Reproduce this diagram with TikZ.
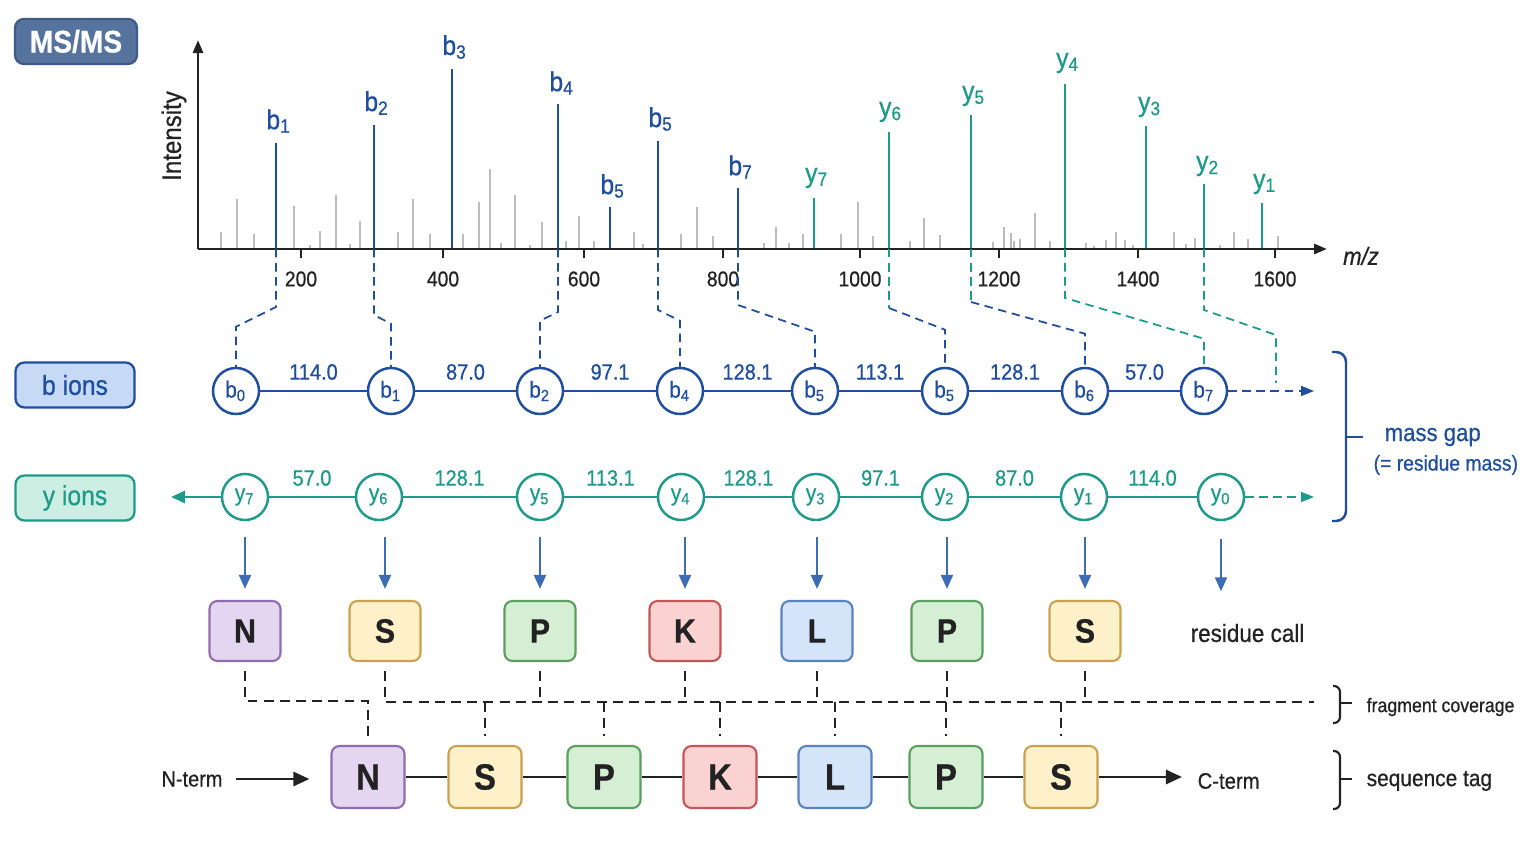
\documentclass[tikz,border=0pt]{standalone}
\usepackage{fontspec}
\setmainfont{Liberation Sans}[FakeStretch=0.9,FakeBold=0.6]
\usetikzlibrary{arrows.meta,calc}
\definecolor{bblue}{HTML}{1F4E9E}
\definecolor{yteal}{HTML}{1E9A8A}
\definecolor{arrblue}{HTML}{3D6CB4}
\definecolor{msfill}{HTML}{56739E}
\definecolor{msedge}{HTML}{3F5A85}
\definecolor{bfill}{HTML}{C6D9F5}
\definecolor{yfill}{HTML}{CDEEE2}
\definecolor{noise}{HTML}{BDBDBD}
\definecolor{Nfill}{HTML}{E4D6F1}\definecolor{Nedge}{HTML}{8F6DAF}
\definecolor{Sfill}{HTML}{FEF0C9}\definecolor{Sedge}{HTML}{C8A24E}
\definecolor{Pfill}{HTML}{D5EFD4}\definecolor{Pedge}{HTML}{5C9E5E}
\definecolor{Kfill}{HTML}{FBD2D2}\definecolor{Kedge}{HTML}{C65558}
\definecolor{Lfill}{HTML}{D4E4F9}\definecolor{Ledge}{HTML}{5A84BF}
\definecolor{txt}{HTML}{222222}
\newcommand{\fsz}[1]{\fontsize{#1}{#1}\selectfont}
\newcommand{\ionlab}[2]{#1\textsubscript{#2}}
\begin{document}
\begin{tikzpicture}[x=0.01cm,y=-0.01cm,
  every node/.style={inner sep=0pt,text=txt},
  bion/.style={circle,draw=bblue,line width=0.7pt,fill=white,minimum size=0.46cm,text=bblue,font=\fsz{6.6}},
  yion/.style={circle,draw=yteal,line width=0.7pt,fill=white,minimum size=0.46cm,text=yteal,font=\fsz{6.6}},
  bedge/.style={draw=bblue,line width=0.75pt},
  yedge/.style={draw=yteal,line width=0.75pt},
  gapb/.style={midway,yshift=0.19cm,font=\fsz{6.3},text=bblue},
  gapy/.style={midway,yshift=0.19cm,font=\fsz{6.3},text=yteal},
  peakb/.style={draw=bblue,line width=0.75pt},
  peaky/.style={draw=yteal,line width=0.75pt},
  plabb/.style={font=\fsz{7.8},text=bblue},
  plaby/.style={font=\fsz{7.8},text=yteal},
  bdash/.style={draw=bblue,line width=0.5pt,dash pattern=on 2.4pt off 1.6pt},
  ydash/.style={draw=yteal,line width=0.5pt,dash pattern=on 2.4pt off 1.6pt},
  res/.style={rounded corners=0.08cm,minimum width=0.71cm,minimum height=0.6cm,line width=0.6pt,font=\bfseries\fsz{9.6}},
  resq/.style={rounded corners=0.08cm,minimum width=0.73cm,minimum height=0.62cm,line width=0.6pt,font=\bfseries\fsz{10.4}},
  rN/.style={fill=Nfill,draw=Nedge},
  rS/.style={fill=Sfill,draw=Sedge},
  rP/.style={fill=Pfill,draw=Pedge},
  rK/.style={fill=Kfill,draw=Kedge},
  rL/.style={fill=Lfill,draw=Ledge},
  cov/.style={draw=txt,line width=0.6pt,dash pattern=on 2.8pt off 1.8pt},
  callarrow/.style={draw=arrblue,line width=0.6pt,-{Triangle[length=0.14cm,width=0.12cm]}},
  termarrow/.style={draw=txt,line width=0.75pt,-{Triangle[length=0.16cm,width=0.14cm]}},
  seq/.style={draw=txt,line width=0.75pt},
  tag/.style={rounded corners=0.09cm,minimum width=1.19cm,minimum height=0.45cm,line width=0.65pt,font=\fsz{7.8}},
  side/.style={anchor=west,font=\fsz{5.6}}
]
\useasboundingbox[fill=white] (0,0) rectangle (1536,864);

% ---------- MS/MS tag ----------
\node[tag,minimum width=1.22cm,fill=msfill,draw=msedge,text=white,font=\bfseries\fsz{8.9}] (ms) at (76,41.5) {MS/MS};

% ---------- spectrum: noise peaks ----------
\foreach \x/\t in {221/232,237/199,254/234,294/206,310/245,320/231,336/195,350/244,360/221,398/232,413/199,430/234,463/234,479/202,490/169,501/243,515/195,530/245,542/222,566/241,579/216,594/241,634/232,643/244,681/234,697/207,713/236,764/243,776/227,789/243,803/234,841/234,858/202,873/236,910/241,924/218,940/235,993/242,1004/227,1011/233,1014/241,1020/239,1035/213,1050/241,1086/243,1094/246,1106/240,1116/232,1125/240,1133/245,1174/232,1186/244,1195/238,1220/245,1234/232,1248/239,1278/236}
  {\draw[noise,line width=0.55pt] (\x,249) -- (\x,\t);}

% ---------- b peaks ----------
\foreach \n/\x/\t/\lx/\ly/\s in {b1/276/143/279/121/1,b2/374/125/377/103/2,b3/452/69/455/47/3,b4/558/104/562/83/4,b5a/610/207/613/186/5,b5b/658/141/661/119/5,b7/738/188/741/167/7}{
  \coordinate (p\n) at (\x,249);
  \draw[peakb] (p\n) -- (\x,\t);
  \node[plabb] (l\n) at (\lx,\ly) {\ionlab{b}{\s}};
}
% ---------- y peaks ----------
\foreach \n/\x/\t/\lx/\ly/\s in {y7/814/198/817/178/7,y6/889/132/891/112/6,y5/971/115/974/96/5,y4/1065/84/1068/63/4,y3/1146/126/1150/107/3,y2/1204/184/1208/166/2,y1/1262/203/1265/184/1}{
  \coordinate (p\n) at (\x,249);
  \draw[peaky] (p\n) -- (\x,\t);
  \node[plaby] (l\n) at (\lx,\ly) {\ionlab{y}{\s}};
}

% ---------- axes ----------
\coordinate (origin) at (198,249);
\coordinate (ytip) at (198,40);
\coordinate (xtip) at (1327,249);
\draw[txt,line width=0.8pt,-{Triangle[length=0.13cm,width=0.1cm]}] (origin) -- (ytip);
\draw[txt,line width=0.8pt,-{Triangle[length=0.13cm,width=0.1cm]}] (origin) -- (xtip);
\foreach \x/\v in {301/200,443/400,584/600,723/800,860/1000,999/1200,1138/1400,1275/1600}{
  \draw[txt,line width=0.7pt] (\x,249) -- (\x,258);
  \node[font=\fsz{6.1}] (t\v) at (\x,279) {\v};
}
\node[rotate=90,font=\fsz{7.6}] (ylab) at (174,136) {Intensity};
\node[font=\itshape\fsz{7}] (xlab) at (1361,256) {m/z};

% ---------- left tags ----------
\node[tag,fill=bfill,draw=bblue,text=bblue] (btag) at (75,385) {b ions};
\node[tag,fill=yfill,draw=yteal,text=yteal] (ytag) at (75,498) {y ions};

% ---------- b ion row ----------
\node[bion] (b0) at (236,391) {\ionlab{b}{0}};
\node[bion] (bb1) at (391,391) {\ionlab{b}{1}};
\node[bion] (bb2) at (540,391) {\ionlab{b}{2}};
\node[bion] (bb4) at (680,391) {\ionlab{b}{4}};
\node[bion] (bb5a) at (815,391) {\ionlab{b}{5}};
\node[bion] (bb5b) at (945,391) {\ionlab{b}{5}};
\node[bion] (bb6) at (1085,391) {\ionlab{b}{6}};
\node[bion] (bb7) at (1204,391) {\ionlab{b}{7}};
\coordinate (bend) at (1314,391);
\draw[bedge] (b0) -- node[gapb] {114.0} (bb1);
\draw[bedge] (bb1) -- node[gapb] {87.0} (bb2);
\draw[bedge] (bb2) -- node[gapb] {97.1} (bb4);
\draw[bedge] (bb4) -- node[gapb] {128.1} (bb5a);
\draw[bedge] (bb5a) -- node[gapb] {113.1} (bb5b);
\draw[bedge] (bb5b) -- node[gapb] {128.1} (bb6);
\draw[bedge] (bb6) -- node[gapb] {57.0} (bb7);
\draw[bdash,-{Triangle[length=0.13cm,width=0.1cm]}] (bb7) -- (bend);

% ---------- y ion row ----------
\node[yion] (y7) at (245,497) {\ionlab{y}{7}};
\node[yion] (y6) at (379,497) {\ionlab{y}{6}};
\node[yion] (y5) at (540,497) {\ionlab{y}{5}};
\node[yion] (y4) at (681,497) {\ionlab{y}{4}};
\node[yion] (y3) at (816,497) {\ionlab{y}{3}};
\node[yion] (y2) at (945,497) {\ionlab{y}{2}};
\node[yion] (y1) at (1084,497) {\ionlab{y}{1}};
\node[yion] (y0) at (1221,497) {\ionlab{y}{0}};
\coordinate (yleft) at (171,497);
\coordinate (yend) at (1314,497);
\draw[yedge,-{Triangle[length=0.14cm,width=0.12cm]}] (y7) -- (yleft);
\draw[yedge] (y7) -- node[gapy] {57.0} (y6);
\draw[yedge] (y6) -- node[gapy] {128.1} (y5);
\draw[yedge] (y5) -- node[gapy] {113.1} (y4);
\draw[yedge] (y4) -- node[gapy] {128.1} (y3);
\draw[yedge] (y3) -- node[gapy] {97.1} (y2);
\draw[yedge] (y2) -- node[gapy] {87.0} (y1);
\draw[yedge] (y1) -- node[gapy] {114.0} (y0);
\draw[ydash,-{Triangle[length=0.13cm,width=0.1cm]}] (y0) -- (yend);

% ---------- peak-to-ion connectors ----------
\draw[bdash] (pb1) -- ++(0,58) -- ($(b0.north)+(0,-40)$) -- (b0.north);
\draw[bdash] (pb2) -- ++(0,66) -- ($(bb1.north)+(0,-43)$) -- (bb1.north);
\draw[bdash] (pb4) -- ++(0,63) -- ($(bb2.north)+(0,-46)$) -- (bb2.north);
\draw[bdash] (pb5b) -- ++(0,61) -- ($(bb4.north)+(0,-46)$) -- (bb4.north);
\draw[bdash] (pb7) -- ++(0,56) -- ($(bb5a.north)+(0,-35)$) -- (bb5a.north);
\draw[ydash] (py6) -- ++(0,59) coordinate (k6);
\draw[bdash] (k6) -- ($(bb5b.north)+(0,-37)$) -- (bb5b.north);
\draw[ydash] (py5) -- ++(0,53) coordinate (k5);
\draw[bdash] (k5) -- ($(bb6.north)+(0,-33)$) -- (bb6.north);
\draw[ydash] (py4) -- ++(0,49) -- ($(bb7.north)+(0,-28)$) -- (bb7.north);
\coordinate (y2end) at (1276,383);
\draw[ydash] (py2) -- ++(0,61) -- ($(y2end)+(0,-48)$) -- (y2end);

% ---------- mass gap brace ----------
\coordinate (mgtop) at (1332,352);
\coordinate (mgbot) at (1332,521);
\coordinate (mgmid) at (1346,437);
\draw[bblue,line width=0.7pt,rounded corners=0.1cm] (mgtop) -| (mgmid) |- (mgbot);
\draw[bblue,line width=0.7pt] (mgmid) -- ++(17,0);
\node[anchor=west,font=\fsz{7},text=bblue] (mg) at (1384,437) {mass gap};
\node[anchor=west,font=\fsz{6.1},text=bblue] (mg2) at (1373,465) {(= residue mass)};

% ---------- residue call row ----------
\node[res,rN] (rN1) at (245,631) {N};
\node[res,rS] (rS1) at (385,631) {S};
\node[res,rP] (rP1) at (540,631) {P};
\node[res,rK] (rK1) at (685,631) {K};
\node[res,rL] (rL1) at (817,631) {L};
\node[res,rP] (rP2) at (947,631) {P};
\node[res,rS] (rS2) at (1085,631) {S};
\node[anchor=west,font=\fsz{7.1}] (rc) at (1190,633) {residue call};
\foreach \r in {rN1,rS1,rP1,rK1,rL1,rP2,rS2}{
  \draw[callarrow] ([yshift=0.63cm]\r.north) -- ([yshift=0.11cm]\r.north);
}
\draw[callarrow] ([yshift=-0.18cm]y0.south) -- ([yshift=-0.70cm]y0.south);

% ---------- sequence tag row ----------
\node[resq,rN] (qN) at (368,777) {N};
\node[resq,rS] (qS) at (485,777) {S};
\node[resq,rP] (qP) at (604,777) {P};
\node[resq,rK] (qK) at (720,777) {K};
\node[resq,rL] (qL) at (835,777) {L};
\node[resq,rP] (qP2) at (946,777) {P};
\node[resq,rS] (qS2) at (1061,777) {S};
\draw[seq] (qN) -- (qS);
\draw[seq] (qS) -- (qP);
\draw[seq] (qP) -- (qK);
\draw[seq] (qK) -- (qL);
\draw[seq] (qL) -- (qP2);
\draw[seq] (qP2) -- (qS2);
\node[font=\fsz{6.3}] (nterm) at (192,779) {N-term};
\node[anchor=west,font=\fsz{6.4}] (cterm) at (1197,781) {C-term};
\draw[termarrow] ([xshift=0.13cm]nterm.east) -- ([xshift=-0.21cm]qN.west |- nterm.east);
\draw[termarrow] (qS2.east) -- ([xshift=-0.15cm]cterm.west |- qS2.east);

% ---------- fragment coverage ----------
\coordinate (covend) at (1314,702);
\draw[cov] ([yshift=-0.09cm]rN1.south) |- ([yshift=0.44cm]qN.north) -- ([yshift=0.09cm]qN.north);
\draw[cov] ([yshift=-0.09cm]rS1.south) |- (covend);
\foreach \r in {rP1,rK1,rL1,rP2,rS2}{
  \draw[cov] ([yshift=-0.09cm]\r.south) -- (\r.south |- covend);
}
\foreach \q in {qS,qP,qK,qL,qP2,qS2}{
  \draw[cov] (\q.north |- covend) -- ([yshift=0.09cm]\q.north);
}

% ---------- small braces ----------
\coordinate (fcmid) at (1340,703);
\draw[txt,line width=0.6pt,rounded corners=0.06cm] (1333,686) -| (fcmid) |- (1333,723);
\draw[txt,line width=0.6pt] (fcmid) -- ++(12,0);
\node[side] (fc) at (1366,707) {fragment coverage};
\coordinate (stmid) at (1340,779);
\draw[txt,line width=0.6pt,rounded corners=0.06cm] (1333,751) -| (stmid) |- (1333,809);
\draw[txt,line width=0.6pt] (stmid) -- ++(12,0);
\node[side,font=\fsz{6.6}] (st) at (1366,781) {sequence tag};
\end{tikzpicture}
\end{document}
